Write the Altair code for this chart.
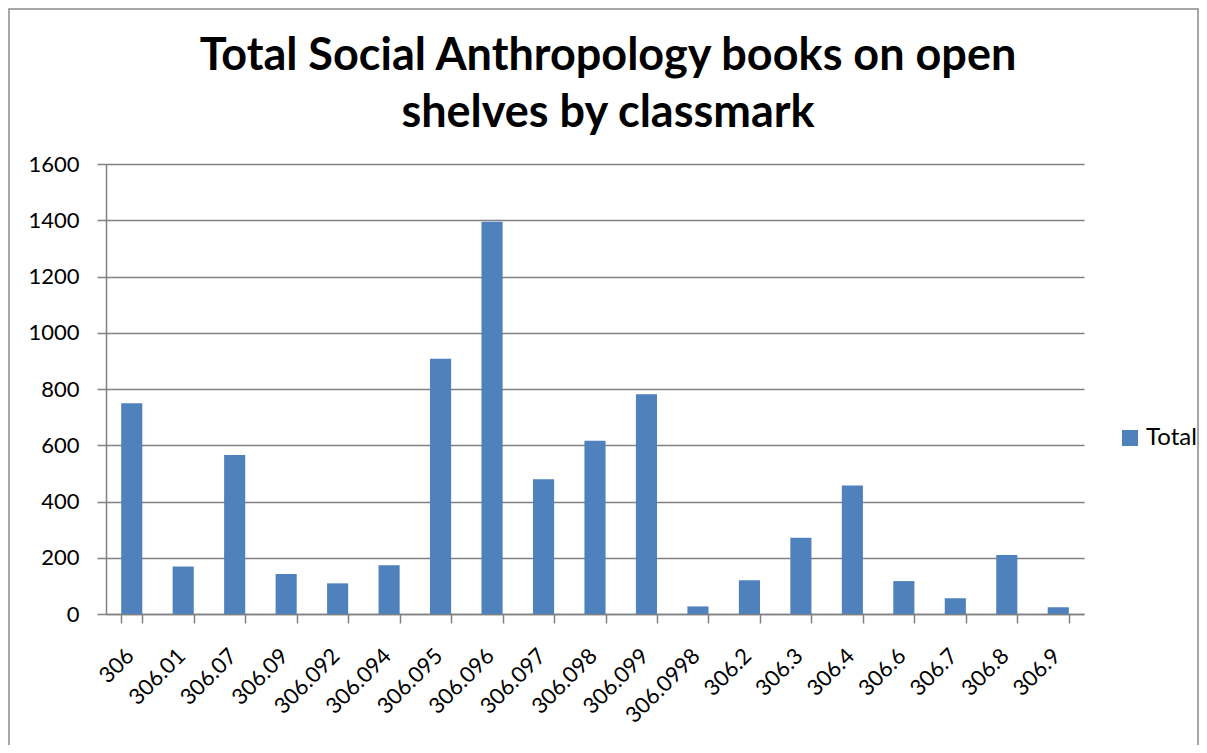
import altair as alt
import pandas as pd

classmarks = ["306", "306.01", "306.07", "306.09", "306.092", "306.094", "306.095",
              "306.096", "306.097", "306.098", "306.099", "306.0998", "306.2", "306.3",
              "306.4", "306.6", "306.7", "306.8", "306.9"]
totals = [749, 169, 565, 142, 109, 173, 908, 1395, 479, 616, 781, 27, 120, 271, 457, 117, 56, 210, 24]
series_names = ["Total"] * len(classmarks)
y_ticks = [0, 200, 400, 600, 800, 1000, 1200, 1400, 1600]
title_lines = ["Total Social Anthropology books on open", "shelves by classmark"]

df = pd.DataFrame({"Classmark": classmarks, "Total": totals, "Series": series_names})

W, H = 978, 450
FONT = "Lato"
GRID = "#808080"

bars = alt.Chart(df).mark_bar().encode(
    x=alt.X("Classmark:N", sort=classmarks,
            scale=alt.Scale(paddingInner=0.59, paddingOuter=0.295),
            axis=alt.Axis(title=None, labelAngle=315, labelAlign="right", labelBaseline="middle",
                          labelFontSize=22, labelFont=FONT, labelColor="black",
                          tickBand="extent", tickSize=9, tickColor=GRID, tickWidth=1.5,
                          domainColor=GRID, domainWidth=1.5, labelPadding=29, labelOffset=-2,
                          grid=False)),
    y=alt.Y("Total:Q", scale=alt.Scale(domain=[0, 1600], nice=False),
            axis=alt.Axis(title=None, values=y_ticks, format="d", grid=True, gridColor=GRID,
                          gridWidth=1.5, tickSize=9, tickColor=GRID, tickWidth=1.5,
                          domainColor=GRID, domainWidth=1.5,
                          labelFontSize=22, labelFont=FONT, labelColor="black", labelPadding=18,
                          labelBaseline="middle")),
    color=alt.Color("Series:N", scale=alt.Scale(domain=["Total"], range=["#4F81BD"]),
                    legend=alt.Legend(orient="none", legendX=1012, legendY=262, title=None,
                                      symbolType="square", symbolSize=256, symbolStrokeWidth=0,
                                      labelFontSize=24, labelFont=FONT, labelColor="black",
                                      labelOffset=4, padding=0)),
)

border = alt.Chart(pd.DataFrame({"k": [0]})).mark_rect(
    fillOpacity=0, stroke="#8a8a8a", strokeWidth=1.5
).encode(x=alt.value(-97), x2=alt.value(1092), y=alt.value(-155), y2=alt.value(700))

chart = alt.layer(border, bars).properties(
    width=W, height=H,
    title=alt.TitleParams(text=title_lines, font=FONT, fontSize=45, fontWeight="bold",
                          color="black", anchor="middle", frame="group", dx=13,
                          lineHeight=57, offset=-128),
    autosize=alt.AutoSizeParams(type="none"),
    padding={"left": 98, "top": 156, "right": 115, "bottom": 131},
).configure_view(stroke=None)

chart.save("out.html", embed_options={"renderer": "svg", "actions": False})
